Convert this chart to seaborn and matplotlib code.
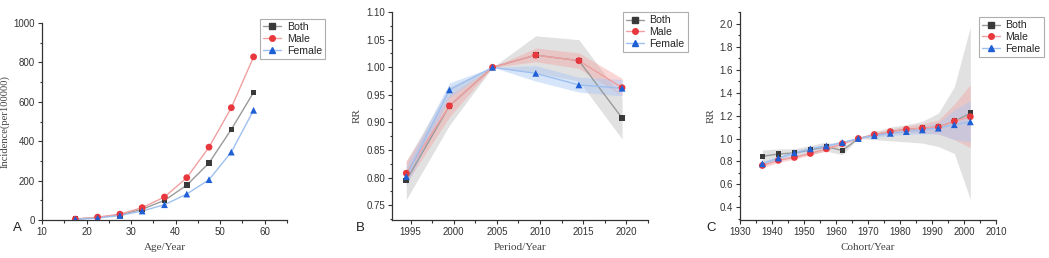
import numpy as np
import pandas as pd
import matplotlib
matplotlib.use("Agg")
import matplotlib.pyplot as plt
from matplotlib.ticker import MultipleLocator
from matplotlib.lines import Line2D
import seaborn as sns

# ---------------- data ----------------
age = [17.5, 22.5, 27.5, 32.5, 37.5, 42.5, 47.5, 52.5, 57.5]
age_both = [5, 13, 27, 55, 100, 177, 290, 460, 648]
age_male = [5, 15, 30, 63, 117, 215, 370, 570, 828]
age_female = [4, 10, 23, 46, 78, 132, 205, 345, 557]

period = [1994.5, 1999.5, 2004.5, 2009.5, 2014.5, 2019.5]
per_both = [0.795, 0.930, 1.000, 1.022, 1.012, 0.908]
per_both_lo = [0.760, 0.895, 1.000, 0.990, 0.975, 0.870]
per_both_hi = [0.830, 0.965, 1.000, 1.057, 1.050, 0.945]
per_male = [0.808, 0.930, 1.000, 1.022, 1.012, 0.963]
per_male_lo = [0.790, 0.910, 1.000, 1.010, 0.998, 0.948]
per_male_hi = [0.830, 0.950, 1.000, 1.035, 1.026, 0.980]
per_female = [0.802, 0.959, 1.000, 0.989, 0.968, 0.962]
per_female_lo = [0.785, 0.945, 1.000, 0.975, 0.955, 0.948]
per_female_hi = [0.820, 0.972, 1.000, 1.003, 0.982, 0.978]

cohort = [1937, 1942, 1947, 1952, 1957, 1962, 1967, 1972, 1977, 1982, 1987, 1992, 1997, 2002]
coh_both = [0.845, 0.865, 0.875, 0.90, 0.93, 0.895, 1.0, 1.03, 1.06, 1.08, 1.09, 1.10, 1.15, 1.22]
coh_both_lo = [0.79, 0.82, 0.84, 0.86, 0.89, 0.86, 1.0, 0.99, 0.98, 0.97, 0.96, 0.93, 0.87, 0.47]
coh_both_hi = [0.90, 0.91, 0.91, 0.94, 0.97, 0.93, 1.0, 1.06, 1.10, 1.12, 1.15, 1.22, 1.45, 1.97]
coh_male = [0.765, 0.81, 0.835, 0.87, 0.91, 0.955, 1.0, 1.035, 1.06, 1.08, 1.09, 1.10, 1.15, 1.19]
coh_male_lo = [0.745, 0.79, 0.82, 0.855, 0.895, 0.94, 1.0, 1.02, 1.04, 1.05, 1.05, 1.04, 0.99, 0.92]
coh_male_hi = [0.785, 0.83, 0.85, 0.885, 0.925, 0.97, 1.0, 1.05, 1.08, 1.11, 1.13, 1.16, 1.30, 1.47]
coh_female = [0.78, 0.83, 0.875, 0.91, 0.935, 0.965, 1.0, 1.025, 1.045, 1.06, 1.075, 1.09, 1.12, 1.145]
coh_female_lo = [0.76, 0.815, 0.86, 0.895, 0.92, 0.95, 1.0, 1.01, 1.025, 1.035, 1.04, 1.04, 0.99, 0.97]
coh_female_hi = [0.80, 0.845, 0.89, 0.925, 0.95, 0.98, 1.0, 1.04, 1.065, 1.085, 1.11, 1.14, 1.25, 1.33]

groups = ["Both", "Male", "Female"]

# ---------------- style ----------------
sns.set_style("ticks")
plt.rcParams["font.family"] = ["Liberation Sans", "DejaVu Sans"]
plt.rcParams["axes.edgecolor"] = "#333333"
plt.rcParams["xtick.color"] = "#333333"
plt.rcParams["ytick.color"] = "#333333"

colors = {"Both": "#3a3a3a", "Male": "#e8383d", "Female": "#1f5fd6"}
line_colors = {"Both": "#9a9a9a", "Male": "#f0a0a0", "Female": "#9ec0f0"}
fill_colors = {"Both": "#bdbdbd", "Male": "#f4a6a6", "Female": "#a8c6f4"}
fill_alpha = {"Both": 0.45, "Male": 0.45, "Female": 0.45}
markers = {"Both": "s", "Male": "o", "Female": "^"}
msize = {"Both": 16, "Male": 24, "Female": 24}

fig = plt.figure(figsize=(10.49, 2.58), dpi=100)
axA = fig.add_axes([0.040, 0.147, 0.2336, 0.764])
axB = fig.add_axes([0.3737, 0.147, 0.244, 0.806])
axC = fig.add_axes([0.7054, 0.147, 0.244, 0.806])

serif = "Liberation Serif"


def draw(ax, x, series, bands=None):
    for g in groups:
        if bands is not None:
            lo, hi = bands[g]
            ax.fill_between(x, lo, hi, color=fill_colors[g], alpha=fill_alpha[g],
                            linewidth=0, zorder=1)
    for g in groups:
        sns.lineplot(x=x, y=series[g], ax=ax, color=line_colors[g], linewidth=1.0,
                     zorder=2, legend=False)
    for g in groups:
        sns.scatterplot(x=x, y=series[g], ax=ax, color=colors[g], marker=markers[g],
                        s=msize[g], edgecolor="none", zorder=3, legend=False)


def legend(ax, anchor):
    handles = [Line2D([0], [0], color=line_colors[g], lw=1.0, marker=markers[g],
                      markersize=4.0, markerfacecolor=colors[g], markeredgecolor=colors[g])
               for g in groups]
    leg = ax.legend(handles, groups, loc="upper right", bbox_to_anchor=anchor,
                    frameon=True, fontsize=7.6, handlelength=1.7, handletextpad=0.5,
                    labelspacing=0.18, borderpad=0.3, fancybox=False,
                    borderaxespad=0.0)
    leg.get_frame().set_edgecolor("#9a9a9a")
    leg.get_frame().set_linewidth(0.8)
    leg.set_zorder(5)


def style(ax):
    sns.despine(ax=ax)
    ax.tick_params(axis="both", which="major", labelsize=7, length=3, width=0.8, pad=2)
    ax.tick_params(axis="both", which="minor", length=1.8, width=0.8)
    for s in ["left", "bottom"]:
        ax.spines[s].set_linewidth(0.9)


# Panel A
draw(axA, age, {"Both": age_both, "Male": age_male, "Female": age_female})
axA.set_xlim(10, 65)
axA.set_ylim(0, 1000)
axA.xaxis.set_major_locator(MultipleLocator(10))
axA.xaxis.set_minor_locator(MultipleLocator(5))
axA.yaxis.set_major_locator(MultipleLocator(200))
axA.yaxis.set_minor_locator(MultipleLocator(100))
axA.set_xticks([10, 20, 30, 40, 50, 60])
axA.set_xlabel("Age/Year", family=serif, fontsize=8, color="#444444")
axA.set_ylabel("Incidence(per100000)", family=serif, fontsize=7.6, color="#444444", labelpad=3)
style(axA)
legend(axA, (1.155, 1.02))

# Panel B
draw(axB, period, {"Both": per_both, "Male": per_male, "Female": per_female},
     {"Both": (per_both_lo, per_both_hi), "Male": (per_male_lo, per_male_hi),
      "Female": (per_female_lo, per_female_hi)})
axB.set_xlim(1992.85, 2022.5)
axB.set_ylim(0.723, 1.10)
axB.xaxis.set_major_locator(MultipleLocator(5))
axB.xaxis.set_minor_locator(MultipleLocator(2.5))
axB.yaxis.set_major_locator(MultipleLocator(0.05))
axB.yaxis.set_minor_locator(MultipleLocator(0.025))
axB.set_xticks([1995, 2000, 2005, 2010, 2015, 2020])
axB.set_yticks([0.75, 0.80, 0.85, 0.90, 0.95, 1.00, 1.05, 1.10])
axB.set_yticklabels([f"{v:.2f}" for v in [0.75, 0.80, 0.85, 0.90, 0.95, 1.00, 1.05, 1.10]])
axB.set_xlabel("Period/Year", family=serif, fontsize=8, color="#444444")
axB.set_ylabel("RR", family=serif, fontsize=8, color="#444444", labelpad=3)
style(axB)
legend(axB, (1.155, 1.0))

# Panel C
draw(axC, cohort, {"Both": coh_both, "Male": coh_male, "Female": coh_female},
     {"Both": (coh_both_lo, coh_both_hi), "Male": (coh_male_lo, coh_male_hi),
      "Female": (coh_female_lo, coh_female_hi)})
axC.set_xlim(1930, 2010)
axC.set_ylim(0.29, 2.10)
axC.xaxis.set_major_locator(MultipleLocator(10))
axC.xaxis.set_minor_locator(MultipleLocator(5))
axC.yaxis.set_major_locator(MultipleLocator(0.2))
axC.yaxis.set_minor_locator(MultipleLocator(0.1))
axC.set_yticks([0.4, 0.6, 0.8, 1.0, 1.2, 1.4, 1.6, 1.8, 2.0])
axC.set_yticklabels([f"{v:.1f}" for v in [0.4, 0.6, 0.8, 1.0, 1.2, 1.4, 1.6, 1.8, 2.0]])
axC.set_xlabel("Cohort/Year", family=serif, fontsize=8, color="#444444")
axC.set_ylabel("RR", family=serif, fontsize=8, color="#444444", labelpad=3)
style(axC)
legend(axC, (1.1875, 0.976))

# panel letters
for lab, xpos in [("A", 0.0125), ("B", 0.3395), ("C", 0.6735)]:
    fig.text(xpos, 0.105, lab, fontsize=9.5, color="#222222")

fig.savefig("out.png", dpi=100, facecolor="white")
